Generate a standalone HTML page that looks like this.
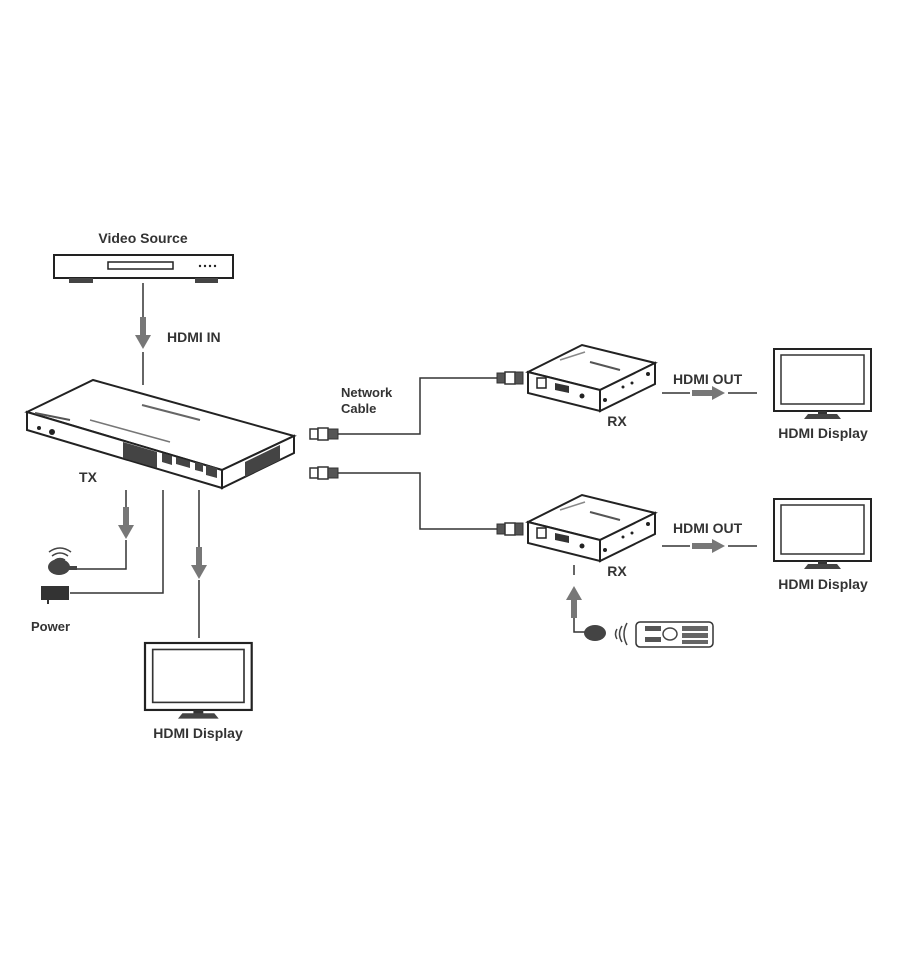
<!DOCTYPE html>
<html><head><meta charset="utf-8"><style>
html,body{margin:0;padding:0;background:#fff;}
svg{display:block;}
text{font-family:"Liberation Sans",sans-serif;font-weight:bold;fill:#333;}
</style></head><body>
<svg width="900" height="959" viewBox="0 0 900 959" xmlns="http://www.w3.org/2000/svg">
<defs>
<g id="arrDown"><rect x="-3" y="0" width="6" height="20" fill="#777"/><polygon points="-8,18 8,18 0,32" fill="#777"/></g>
<g id="arrRight"><rect x="0" y="-3" width="22" height="6" fill="#777"/><polygon points="20,-7 20,7 33,0" fill="#777"/></g>
<g id="plugL"><rect x="0" y="-5" width="8" height="10" fill="#fff" stroke="#333" stroke-width="1.5"/><rect x="8" y="-6" width="10" height="12" fill="#fff" stroke="#333" stroke-width="1.5"/><rect x="18" y="-5" width="10" height="10" fill="#555" stroke="#333"/></g>
<g id="plugR"><rect x="0" y="-5" width="8" height="10" fill="#555" stroke="#333"/><rect x="8" y="-6" width="10" height="12" fill="#fff" stroke="#333" stroke-width="1.5"/><rect x="18" y="-6" width="8" height="12" fill="#555" stroke="#333"/></g>
<g id="rx">
<polygon points="528,372 582,345 655,363 600,390" fill="#fff" stroke="#222" stroke-width="2"/>
<polygon points="528,372 600,390 600,411 528,393" fill="#fff" stroke="#222" stroke-width="2"/>
<polygon points="600,390 655,363 655,384 600,411" fill="#fff" stroke="#222" stroke-width="2"/>
<rect x="537" y="378" width="9" height="10" fill="#fff" stroke="#222" stroke-width="1.5"/>
<polygon points="555,383 569,386 569,393 555,390" fill="#333"/>
<circle cx="582" cy="396" r="2.5" fill="#222"/>
<circle cx="605" cy="400" r="2" fill="#222"/><circle cx="623" cy="387" r="1.5" fill="#222"/><circle cx="632" cy="383" r="1.5" fill="#222"/><circle cx="648" cy="374" r="2" fill="#222"/>
<line x1="590" y1="362" x2="620" y2="370" stroke="#555" stroke-width="2"/>
<line x1="560" y1="360" x2="585" y2="352" stroke="#888" stroke-width="1.5"/>
</g>
<g id="mon">
<rect x="0" y="0" width="97" height="62" fill="#fff" stroke="#222" stroke-width="2"/>
<rect x="7" y="6" width="83" height="49" fill="#fff" stroke="#333" stroke-width="1.5"/>
<rect x="44" y="62" width="9" height="4" fill="#333"/>
<polygon points="30,70 67,70 63,65 34,65" fill="#444"/>
</g>
</defs>

<!-- Video source -->
<text x="143" y="243" font-size="14" text-anchor="middle">Video Source</text>
<rect x="54" y="255" width="179" height="23" fill="#fff" stroke="#222" stroke-width="2"/>
<rect x="108" y="262" width="65" height="7" fill="#fff" stroke="#222" stroke-width="1.5"/>
<rect x="69" y="278" width="24" height="5" fill="#444"/><rect x="195" y="278" width="23" height="5" fill="#444"/>
<circle cx="200" cy="266" r="1.2" fill="#222"/><circle cx="205" cy="266" r="1.2" fill="#222"/><circle cx="210" cy="266" r="1.2" fill="#222"/><circle cx="215" cy="266" r="1.2" fill="#222"/>
<line x1="143" y1="283" x2="143" y2="318" stroke="#333" stroke-width="1.5"/>
<use href="#arrDown" x="143" y="317"/>
<line x1="143" y1="352" x2="143" y2="385" stroke="#333" stroke-width="1.5"/>
<text x="167" y="342" font-size="14">HDMI IN</text>

<!-- TX -->
<polygon points="27,412 93,380 294,436 222,470" fill="#fff" stroke="#222" stroke-width="2"/>
<polygon points="27,412 222,470 222,488 27,430" fill="#fff" stroke="#222" stroke-width="2"/>
<polygon points="222,470 294,436 294,453 222,488" fill="#fff" stroke="#222" stroke-width="2"/>
<polygon points="123,442 157,452 157,468 123,458" fill="#444"/>
<polygon points="162,453 172,456 172,465 162,462" fill="#444"/>
<polygon points="176,457 190,461 190,468 176,464" fill="#444"/>
<polygon points="195,462 203,464 203,472 195,470" fill="#444"/>
<polygon points="206,465 217,468 217,478 206,475" fill="#444"/>
<polygon points="245,462 280,445 280,460 245,477" fill="#444"/>
<circle cx="39" cy="428" r="2" fill="#222"/><circle cx="52" cy="432" r="3" fill="#222"/>
<line x1="35" y1="413" x2="70" y2="420" stroke="#555" stroke-width="2"/>
<line x1="90" y1="420" x2="170" y2="442" stroke="#777" stroke-width="1.5"/>
<line x1="142" y1="405" x2="200" y2="420" stroke="#666" stroke-width="2"/>
<text x="88" y="482" font-size="14" text-anchor="middle">TX</text>

<!-- Network cables -->
<use href="#plugL" x="310" y="434"/>
<use href="#plugL" x="310" y="473"/>
<polyline points="338,434 420,434 420,378 497,378" fill="none" stroke="#333" stroke-width="1.5"/>
<polyline points="338,473 420,473 420,529 497,529" fill="none" stroke="#333" stroke-width="1.5"/>
<use href="#plugR" x="497" y="378"/>
<use href="#plugR" x="497" y="529"/>
<text x="341" y="397" font-size="13">Network</text>
<text x="341" y="413" font-size="13">Cable</text>

<!-- RX -->
<use href="#rx"/>
<use href="#rx" y="150"/>
<text x="617" y="426" font-size="14" text-anchor="middle">RX</text>
<text x="617" y="576" font-size="14" text-anchor="middle">RX</text>

<!-- HDMI out -->
<text x="673" y="384" font-size="14">HDMI OUT</text>
<line x1="662" y1="393" x2="690" y2="393" stroke="#333" stroke-width="1.5"/>
<use href="#arrRight" x="692" y="393"/>
<line x1="728" y1="393" x2="757" y2="393" stroke="#333" stroke-width="1.5"/>
<text x="673" y="533" font-size="14">HDMI OUT</text>
<line x1="662" y1="546" x2="690" y2="546" stroke="#333" stroke-width="1.5"/>
<use href="#arrRight" x="692" y="546"/>
<line x1="728" y1="546" x2="757" y2="546" stroke="#333" stroke-width="1.5"/>

<use href="#mon" x="774" y="349"/>
<text x="823" y="438" font-size="14" text-anchor="middle">HDMI Display</text>
<use href="#mon" x="774" y="499"/>
<text x="823" y="589" font-size="14" text-anchor="middle">HDMI Display</text>

<!-- bottom left -->
<line x1="126" y1="490" x2="126" y2="507" stroke="#333" stroke-width="1.5"/>
<use href="#arrDown" x="126" y="507"/>
<polyline points="126,540 126,569 75,569" fill="none" stroke="#333" stroke-width="1.5"/>
<ellipse cx="59" cy="567" rx="11" ry="8" fill="#444"/>
<rect x="68" y="566" width="9" height="4" fill="#444"/>
<path d="M52,556 Q60,550 68,556 M49,552 Q60,544 71,552 M55,560 Q60,557 65,560" fill="none" stroke="#444" stroke-width="1.5"/>
<polyline points="163,490 163,593 70,593" fill="none" stroke="#333" stroke-width="1.5"/>
<rect x="41" y="586" width="28" height="14" fill="#333"/>
<rect x="47" y="600" width="2" height="4" fill="#333"/>
<text x="31" y="631" font-size="13">Power</text>
<line x1="199" y1="490" x2="199" y2="547" stroke="#333" stroke-width="1.5"/>
<use href="#arrDown" x="199" y="547"/>
<line x1="199" y1="580" x2="199" y2="638" stroke="#333" stroke-width="1.5"/>
<g transform="translate(145,643) scale(1.1,1.08)"><use href="#mon"/></g>
<text x="198" y="738" font-size="14" text-anchor="middle">HDMI Display</text>

<!-- remote -->
<line x1="574" y1="565" x2="574" y2="575" stroke="#333" stroke-width="1.5"/>
<g transform="translate(574,618) rotate(180)"><use href="#arrDown"/></g>
<polyline points="574,618 574,632 585,632" fill="none" stroke="#333" stroke-width="1.5"/>
<ellipse cx="595" cy="633" rx="11" ry="8" fill="#444"/>
<path d="M622,626 Q617,634 622,642 M627,623 Q621,634 627,645 M617,629 Q614,634 617,639" fill="none" stroke="#444" stroke-width="1.5"/>
<rect x="636" y="622" width="77" height="25" rx="4" fill="#fff" stroke="#333" stroke-width="1.5"/>
<rect x="645" y="626" width="16" height="5" fill="#555"/><rect x="645" y="637" width="16" height="5" fill="#555"/>
<ellipse cx="670" cy="634" rx="7" ry="6" fill="none" stroke="#444" stroke-width="1.5"/>
<rect x="682" y="626" width="26" height="5" fill="#666"/><rect x="682" y="633" width="26" height="5" fill="#666"/><rect x="682" y="640" width="26" height="4" fill="#666"/>
</svg>
</body></html>
